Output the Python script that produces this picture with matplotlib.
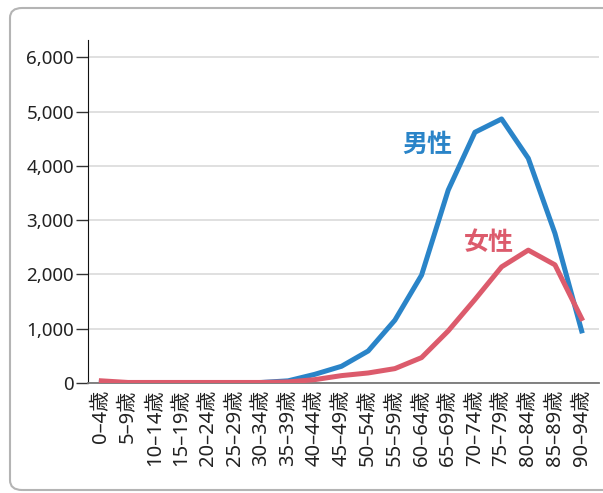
import matplotlib
matplotlib.use("Agg")
import matplotlib.pyplot as plt
from matplotlib.patches import FancyBboxPatch

plt.rcParams['font.family'] = ['Noto Sans', 'Noto Sans CJK JP', 'DejaVu Sans']

# age groups
ages = ['0–4歳', '5–9歳', '10–14歳', '15–19歳', '20–24歳', '25–29歳', '30–34歳',
        '35–39歳', '40–44歳', '45–49歳', '50–54歳', '55–59歳', '60–64歳',
        '65–69歳', '70–74歳', '75–79歳', '80–84歳', '85–89歳', '90–94歳']
male = [10, 0, 0, 0, 0, 0, 10, 40, 160, 308, 590, 1157, 1987,
        3555, 4620, 4865, 4140, 2756, 960]
female = [40, 10, 10, 10, 10, 10, 10, 20, 62, 136, 185, 265, 468,
          960, 1538, 2140, 2448, 2177, 1188]
yticks = [0, 1000, 2000, 3000, 4000, 5000, 6000]

blue = '#2a84c8'
red = '#dc5b6c'

fig = plt.figure(figsize=(6.03, 4.93), dpi=100)
# rounded frame round the chart, right side runs off the picture
frame = FancyBboxPatch((10 / 603, 3 / 493), 620 / 603, 482 / 493,
                       boxstyle="round,pad=0,rounding_size=0.02",
                       transform=fig.transFigure, fill=False,
                       edgecolor='#b4b4b4', linewidth=1.5, clip_on=False)
fig.patches.append(frame)

ax = fig.add_axes([88 / 603, 1 - 383 / 493, (599 - 88) / 603, (383 - 40) / 493])
x = list(range(len(ages)))
ax.plot(x, male, color=blue, lw=3.6, zorder=3)
ax.plot(x, female, color=red, lw=3.6, zorder=3)

cjk = ['Noto Sans CJK JP']
ax.text(12.23, 4395, '男性', color=blue, fontsize=18, fontweight='bold',
        family=cjk, ha='center', va='center')
ax.text(14.52, 2578, '女性', color=red, fontsize=18, fontweight='bold',
        family=cjk, ha='center', va='center')

ax.set_xlim(-0.5, 18.65)
ax.set_ylim(0, 6320)
ax.set_yticks(yticks)
ax.set_yticklabels(['{:,}'.format(v) for v in yticks], fontsize=13.5, color='#222222')
ax.set_xticks(x)
ax.set_xticklabels(ages, rotation=90, fontsize=14.5, color='#222222')
ax.tick_params(axis='x', length=0, pad=5)
ax.tick_params(axis='y', length=9, width=1, color='#333333', pad=1)
ax.grid(axis='y', color='#dddddd', lw=1.3)
ax.set_axisbelow(True)
for s in ['top', 'right']:
    ax.spines[s].set_visible(False)
ax.spines['left'].set_color('#111111')
ax.spines['bottom'].set_color('#777777')
ax.spines['bottom'].set_linewidth(1.3)

fig.savefig('out.png', dpi=100)
